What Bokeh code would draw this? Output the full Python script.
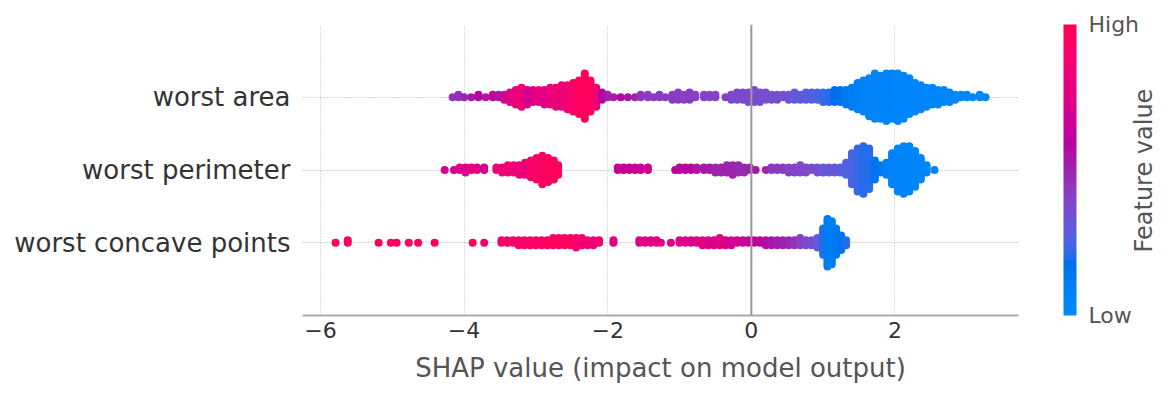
import math
import numpy as np
from bokeh.plotting import figure
from bokeh.models import (ColumnDataSource, FixedTicker, LinearColorMapper, ColorBar,
                          LinearAxis, Span, Range1d)
from bokeh.embed import file_html
from bokeh.resources import INLINE

# ---------------- data ----------------
features = ["worst concave points", "worst perimeter", "worst area"]   # bottom -> top

# SHAP value of each bin, number of points in it, feature value (0 = low, 1 = high)
area_x = [-4.16, -4.08, -4.0, -3.9, -3.8, -3.7, -3.6, -3.52, -3.44, -3.36, -3.28, -3.2, -3.12,
          -3.04, -2.96, -2.88, -2.8, -2.72, -2.64, -2.56, -2.48, -2.4, -2.32, -2.24, -2.16, -2.08,
          -2.0, -1.92, -1.82, -1.72, -1.62, -1.54, -1.44, -1.36, -1.28, -1.2, -1.1, -1.02, -0.94,
          -0.86, -0.78, -0.66, -0.58, -0.5, -0.36, -0.28, -0.2, -0.12, -0.04, 0.04, 0.12, 0.2,
          0.28, 0.36, 0.44, 0.52, 0.6, 0.68, 0.76, 0.84, 0.92, 1.0, 1.08, 1.16, 1.24, 1.32, 1.4,
          1.48, 1.56, 1.64, 1.72, 1.8, 1.88, 1.96, 2.04, 2.12, 2.2, 2.28, 2.36, 2.44, 2.52, 2.6,
          2.68, 2.76, 2.84, 2.92, 3.0, 3.08, 3.18, 3.26]
area_n = [1, 2, 1, 1, 2, 1, 2, 2, 3, 5, 7, 9, 7,
          6, 6, 7, 8, 9, 10, 11, 13, 15, 20, 14, 9, 4,
          2, 1, 1, 1, 1, 2, 2, 1, 2, 1, 3, 4, 3,
          4, 2, 2, 2, 2, 1, 3, 4, 4, 5, 6, 5, 4,
          3, 3, 2, 3, 4, 3, 4, 4, 4, 5, 5, 6, 6, 7, 9,
          12, 14, 17, 20, 19, 21, 20, 21, 19, 16, 13, 11, 9, 8, 7,
          6, 5, 3, 2, 2, 1, 2, 1]
area_v = [0.45, 0.45, 0.5, 0.55, 0.6, 0.55, 0.65, 0.55, 0.7, 0.75, 0.8, 0.85, 0.7,
          0.75, 0.8, 0.75, 0.8, 0.85, 0.8, 0.85, 0.9, 0.95, 0.96, 0.95, 0.85, 0.6,
          0.5, 0.55, 0.6, 0.55, 0.5, 0.45, 0.42, 0.42, 0.42, 0.42, 0.42, 0.42, 0.4,
          0.42, 0.4, 0.4, 0.4, 0.4, 0.4, 0.38, 0.38, 0.38, 0.38, 0.36, 0.36, 0.35,
          0.35, 0.34, 0.33, 0.32, 0.3, 0.29, 0.28, 0.26, 0.24, 0.22, 0.2, 0.18, 0.15, 0.12, 0.1,
          0.08, 0.06, 0.05, 0.05, 0.05, 0.04, 0.04, 0.03, 0.03, 0.03, 0.03, 0.03, 0.03, 0.03, 0.02,
          0.02, 0.02, 0.02, 0.02, 0.02, 0.02, 0.02, 0.02]

perim_x = [-4.27, -4.14, -4.06, -3.98, -3.9, -3.82, -3.72, -3.55, -3.47, -3.39, -3.31, -3.23,
           -3.15, -3.07, -2.99, -2.91, -2.83, -2.75, -2.69, -1.86, -1.78, -1.7, -1.62, -1.54,
           -1.44, -1.06, -1.0, -0.92, -0.84, -0.76, -0.66, -0.58, -0.5, -0.42, -0.34, -0.26,
           -0.18, -0.1, -0.02, 0.06, 0.2, 0.28, 0.36, 0.44, 0.52, 0.6, 0.68, 0.76, 0.84, 0.92,
           1.0, 1.08, 1.16, 1.24, 1.32, 1.4, 1.48, 1.56, 1.64, 1.72, 1.8, 1.88, 1.96, 2.04,
           2.12, 2.2, 2.28, 2.36, 2.44, 2.55]
perim_n = [1, 1, 2, 3, 2, 2, 2, 2, 3, 4, 4, 5,
           6, 8, 10, 13, 11, 9, 5, 2, 2, 2, 2, 2,
           2, 1, 2, 2, 2, 2, 2, 2, 3, 3, 4, 5,
           4, 3, 2, 1, 1, 2, 2, 2, 3, 3, 4, 3, 2, 3,
           3, 3, 3, 3, 6, 14, 19, 21, 18, 9, 4, 6, 14, 19,
           21, 20, 16, 10, 4, 1]
perim_v = [0.7, 0.7, 0.75, 0.72, 0.8, 0.75, 0.7, 0.85, 0.8, 0.85, 0.8, 0.85,
           0.8, 0.9, 0.9, 0.92, 0.95, 0.95, 0.95, 0.65, 0.65, 0.65, 0.65, 0.65,
           0.7, 0.6, 0.6, 0.6, 0.6, 0.55, 0.55, 0.55, 0.5, 0.5, 0.5, 0.5,
           0.48, 0.48, 0.5, 0.55, 0.5, 0.42, 0.42, 0.42, 0.4, 0.4, 0.38, 0.38, 0.35, 0.35,
           0.3, 0.3, 0.3, 0.28, 0.25, 0.25, 0.22, 0.2, 0.2, 0.15, 0.12, 0.08, 0.06, 0.05,
           0.04, 0.04, 0.04, 0.04, 0.04, 0.04]

conc_x = [-5.79, -5.62, -5.19, -5.02, -4.94, -4.77, -4.64, -4.41, -3.88, -3.72, -3.48, -3.4,
          -3.32, -3.24, -3.16, -3.08, -3.0, -2.92, -2.84, -2.76, -2.68, -2.6, -2.52, -2.44,
          -2.36, -2.28, -2.2, -2.12, -1.92, -1.56, -1.48, -1.4, -1.32, -1.26, -1.12, -1.0,
          -0.92, -0.84, -0.76, -0.68, -0.6, -0.52, -0.44, -0.36, -0.28, -0.2, -0.12, -0.04,
          0.04, 0.12, 0.2, 0.28, 0.36, 0.44, 0.52, 0.6, 0.68, 0.76, 0.84, 0.92, 1.0, 1.06,
          1.12, 1.18, 1.25, 1.32]
conc_n = [1, 2, 1, 1, 1, 1, 1, 1, 1, 1, 2, 2,
          2, 3, 3, 3, 3, 3, 3, 4, 4, 4, 4, 5,
          4, 3, 3, 2, 2, 2, 2, 2, 2, 1, 1, 2,
          2, 2, 2, 3, 3, 3, 4, 3, 3, 2, 2, 2,
          2, 2, 3, 3, 3, 3, 3, 3, 4, 3, 3, 5, 12, 21,
          19, 12, 7, 3]
conc_v = [0.95, 0.92, 0.95, 0.95, 0.95, 0.95, 0.92, 0.95, 0.98, 0.85, 0.9, 0.9,
          0.92, 0.9, 0.9, 0.92, 0.9, 0.92, 0.95, 0.95, 0.95, 0.95, 0.95, 0.9,
          0.85, 0.85, 0.85, 0.85, 0.75, 0.75, 0.8, 0.75, 0.78, 0.75, 0.75, 0.72,
          0.75, 0.72, 0.75, 0.78, 0.75, 0.72, 0.8, 0.72, 0.7, 0.7, 0.68, 0.65,
          0.62, 0.6, 0.58, 0.55, 0.52, 0.5, 0.48, 0.45, 0.4, 0.38, 0.35, 0.3, 0.2, 0.1,
          0.08, 0.12, 0.15, 0.2]

x_ticks = [-6, -4, -2, 0, 2]

# ---------------- colour map (SHAP red_blue, LCH interpolation) ----------------
def lch2rgb(L, C, h):
    a, b = C * math.cos(h), C * math.sin(h)
    fy = (L + 16) / 116
    fx = fy + a / 500
    fz = fy - b / 200
    def finv(t):
        return t ** 3 if t ** 3 > 0.008856 else (t - 16 / 116) / 7.787
    X, Y, Z = 0.95047 * finv(fx), finv(fy), 1.08883 * finv(fz)
    r = 3.2404542 * X - 1.5371385 * Y - 0.4985314 * Z
    g = -0.9692660 * X + 1.8760108 * Y + 0.0415560 * Z
    bb = 0.0556434 * X - 0.2040259 * Y + 1.0572252 * Z
    out = []
    for c in (r, g, bb):
        c = 1.055 * c ** (1 / 2.4) - 0.055 if c > 0.0031308 else 12.92 * c
        out.append(int(round(min(max(c, 0), 1) * 255)))
    return "#%02x%02x%02x" % tuple(out)

nsteps = 100
l_vals = list(np.linspace(54, 40, nsteps // 2)) + list(np.linspace(40, 54, nsteps // 2))
c_vals = np.linspace(70, 90, nsteps)
h_vals = np.linspace(4.6588, 0.35470565 + 2 * np.pi, nsteps)
palette = [lch2rgb(l, c, h) for l, c, h in zip(l_vals, c_vals, h_vals)]

def cmap(v):
    return palette[int(round(min(max(v, 0), 1) * (nsteps - 1)))]

# ---------------- beeswarm layout ----------------
def swarm(xs, ns, vs, row):
    px, layers, cols = [], [], []
    for x, n, v in zip(xs, ns, vs):
        for k in range(n):
            px.append(x)
            layers.append(math.ceil(k / 2) * ((k % 2) * 2 - 1))
            cols.append(cmap(v))
    layers = np.array(layers, dtype=float)
    layers *= 0.9 * (0.4 / np.max(layers + 1))
    return px, list(row + layers), cols

all_x, all_y, all_c = [], [], []
for xs, ns, vs, row in [(conc_x, conc_n, conc_v, 0), (perim_x, perim_n, perim_v, 1),
                        (area_x, area_n, area_v, 2)]:
    a, b, c = swarm(xs, ns, vs, row)
    all_x += a
    all_y += b
    all_c += c
src = ColumnDataSource(dict(x=all_x, y=all_y, c=all_c))

# ---------------- figure ----------------
FONT = "DejaVu Sans"
p = figure(width=1175, height=388, output_backend="svg", toolbar_location=None,
           x_range=Range1d(-6.25, 3.72), y_range=Range1d(-1, 3),
           min_border_left=302, min_border_right=0, min_border_top=24, min_border_bottom=73)
p.outline_line_color = None
p.background_fill_color = "white"

# grid
p.xgrid.ticker = FixedTicker(ticks=[t for t in x_ticks if t != 0])
p.xgrid.grid_line_color = "#bbbbbb"
p.xgrid.grid_line_dash = "1 2"
p.xgrid.grid_line_width = 1
p.ygrid.ticker = FixedTicker(ticks=[0, 1, 2])
p.ygrid.grid_line_color = "#aaaaaa"
p.ygrid.grid_line_dash = "1 2"
p.ygrid.grid_line_width = 1
p.add_layout(Span(location=0, dimension="height", line_color="#999999", line_width=2))

p.scatter("x", "y", source=src, size=8, fill_color="c", line_color=None)

# x axis
p.xaxis.ticker = FixedTicker(ticks=x_ticks)
p.xaxis.major_label_overrides = {t: (("\u2212%d" % -t) if t < 0 else str(t)) for t in x_ticks}
p.xaxis.axis_label = "SHAP value (impact on model output)"
p.xaxis.axis_label_text_font = FONT
p.xaxis.axis_label_text_font_size = "26px"
p.xaxis.axis_label_text_font_style = "normal"
p.xaxis.axis_label_text_color = "#555555"
p.xaxis.axis_label_standoff = 12
p.xaxis.major_label_text_font = FONT
p.xaxis.major_label_text_font_size = "22px"
p.xaxis.major_label_text_color = "#333333"
p.xaxis.major_label_standoff = 6
p.xaxis.major_tick_out = 0
p.xaxis.major_tick_in = 0
p.xaxis.minor_tick_line_color = None
p.xaxis.axis_line_color = "#aaaaaa"
p.xaxis.axis_line_width = 2

# y axis
p.yaxis.ticker = FixedTicker(ticks=[0, 1, 2])
p.yaxis.major_label_overrides = {i: f for i, f in enumerate(features)}
p.yaxis.major_label_text_font = FONT
p.yaxis.major_label_text_font_size = "26px"
p.yaxis.major_label_text_color = "#333333"
p.yaxis.major_label_standoff = 6
p.yaxis.major_tick_line_color = None
p.yaxis.minor_tick_line_color = None
p.yaxis.axis_line_color = None

# colour bar
mapper = LinearColorMapper(palette=palette, low=0, high=1)
cb = ColorBar(color_mapper=mapper, ticker=FixedTicker(ticks=[0, 1]),
              major_label_overrides={0: "Low", 1: "High"}, width=13,
              margin=0, padding=0, location=(45, 0), label_standoff=12,
              major_tick_line_color=None, minor_tick_line_color=None,
              bar_line_color=None, border_line_color=None, background_fill_alpha=0,
              major_label_text_font=FONT, major_label_text_font_size="22px",
              major_label_text_color="#555555")
p.add_layout(cb, "right")

# "Feature value" title of the colour bar, drawn as a rotated label of an extra right axis
FV_TICK = -0.134
fv_axis = LinearAxis(ticker=FixedTicker(ticks=[FV_TICK]),
                     major_label_overrides={FV_TICK: "Feature value"},
                     major_label_orientation=math.pi / 2,
                     major_label_text_font=FONT, major_label_text_font_size="24px",
                     major_label_text_color="#555555", major_label_standoff=2,
                     major_tick_out=0, major_tick_in=0,
                     axis_line_color=None, major_tick_line_color=None,
                     minor_tick_line_color=None)
p.add_layout(fv_axis, "right")

open("out.html", "w").write(file_html(p, INLINE))
